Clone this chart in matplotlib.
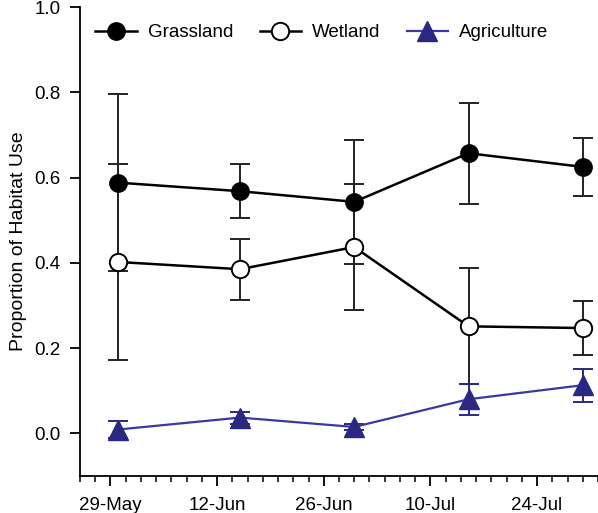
import matplotlib
matplotlib.use('Agg')
import matplotlib.pyplot as plt
import matplotlib.dates as mdates
import matplotlib.ticker as mticker
import numpy as np

plt.rcParams['font.family'] = ['Liberation Sans', 'DejaVu Sans']

dates = ['2015-05-30', '2015-06-15', '2015-06-30', '2015-07-15', '2015-07-30']
grass = [0.588, 0.568, 0.543, 0.657, 0.625]
grass_err = [0.208, 0.063, 0.145, 0.118, 0.068]
wet = [0.402, 0.385, 0.437, 0.251, 0.247]
wet_err = [0.229, 0.072, 0.148, 0.136, 0.064]
agri = [0.009, 0.037, 0.015, 0.080, 0.113]
agri_err = [0.019, 0.014, 0.006, 0.036, 0.039]
tick_dates = ['2015-05-29', '2015-06-12', '2015-06-26', '2015-07-10', '2015-07-24']
tick_labels = ['29-May', '12-Jun', '26-Jun', '10-Jul', '24-Jul']
xlim_dates = ['2015-05-25', '2015-08-01']

x = mdates.datestr2num(dates)
xt = mdates.datestr2num(tick_dates)
xl = mdates.datestr2num(xlim_dates)

fig = plt.figure(figsize=(5.98, 5.13), dpi=100)
ax = fig.add_axes([80/598, 37/513, 518/598, 469/513])

navy = '#2B2882'
line_navy = '#3B37A3'

ax.errorbar(x, grass, yerr=grass_err, fmt='none', ecolor='#222222', elinewidth=1.4,
            capsize=7, capthick=1.4, zorder=2)
ax.errorbar(x, wet, yerr=wet_err, fmt='none', ecolor='#222222', elinewidth=1.4,
            capsize=7, capthick=1.4, zorder=2)
ax.errorbar(x, agri, yerr=agri_err, fmt='none', ecolor=navy, elinewidth=1.4,
            capsize=7, capthick=1.4, zorder=2)

ax.plot(x, grass, '-o', color='black', lw=1.8, ms=12.5, mfc='black', mec='black',
        label='Grassland', zorder=4)
ax.plot(x, wet, '-o', color='black', lw=1.8, ms=12.5, mfc='white', mec='black', mew=1.4,
        label='Wetland', zorder=4)
ax.plot(x, agri, '-^', color=line_navy, lw=1.6, ms=14, mfc=navy, mec=navy,
        label='Agriculture', zorder=3)

ax.set_xlim(xl[0], xl[1])
ax.set_ylim(-0.1, 1.0)
ax.set_yticks([0.0, 0.2, 0.4, 0.6, 0.8, 1.0])
ax.yaxis.set_major_formatter(mticker.FormatStrFormatter('%.1f'))
ax.set_xticks(xt)
ax.set_xticklabels(tick_labels)
ax.xaxis.set_minor_locator(mticker.FixedLocator(np.arange(xl[0], xl[1] + 0.5, 2)))

for s in ['top', 'right']:
    ax.spines[s].set_visible(False)
for s in ['left', 'bottom']:
    ax.spines[s].set_linewidth(1.3)

ax.tick_params(axis='both', which='major', length=7, width=1.3, labelsize=13.5, direction='out')
ax.tick_params(axis='x', which='minor', length=4, width=1.1, direction='out')
ax.tick_params(axis='x', pad=8)
ax.tick_params(axis='y', pad=7)
ax.set_ylabel('Proportion of Habitat Use', fontsize=14, labelpad=5)

ax.legend(loc='center', bbox_to_anchor=(0.467, 0.945), ncol=3, frameon=False,
          fontsize=13.5, handlelength=2.2, handletextpad=0.6, columnspacing=1.4,
          numpoints=1)

fig.savefig('out.png', dpi=100)
